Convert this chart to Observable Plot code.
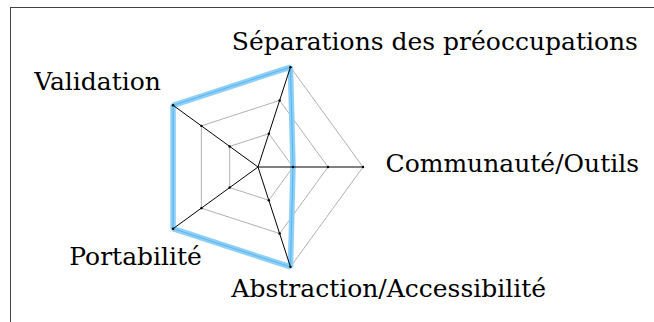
<!DOCTYPE html>
<html><head><meta charset="utf-8">
<script src="https://cdn.jsdelivr.net/npm/d3@7"></script>
<script src="https://cdn.jsdelivr.net/npm/@observablehq/plot@0.6"></script>
<style>
html,body{margin:0;padding:0;background:#fff;overflow:hidden}
#wrap{position:relative;width:654px;height:322px}
#frame{position:absolute;left:10px;top:7px;width:700px;height:400px;border-left:1.5px solid #444;border-top:1.5px solid #444;pointer-events:none}
#chart{position:absolute;left:0;top:0}
</style></head><body><div id="wrap"><div id="chart"></div><div id="frame"></div></div>
<script>
const axes = ["Communauté/Outils", "Séparations des préoccupations", "Validation", "Portabilité", "Abstraction/Accessibilité"];
const values = [1, 3, 3, 3, 3];
const levels = [1, 2, 3];
const maxValue = 3;

const n = axes.length;
const ang = i => (i * 2 * Math.PI) / n;
const pt = (v, i) => ({x: v * Math.cos(ang(i)), y: v * Math.sin(ang(i))});

const gridPts = levels.flatMap(l => d3.range(n + 1).map(i => ({level: l, ...pt(l, i % n)})));
const spokes = axes.map((a, i) => ({axis: a, x1: 0, y1: 0, x2: pt(maxValue, i).x, y2: pt(maxValue, i).y}));
const tickPts = levels.flatMap(l => axes.map((a, i) => pt(l, i)));
const dataPts = d3.range(n + 1).map(i => pt(values[i % n], i % n));
const labelPts = axes.map((a, i) => ({label: a, ...pt(maxValue * 3.5 / 3, i)}));

// layout of label anchors (style only)
const labelStyle = [
  {anchor: "start", dx: 5, dy: -3},
  {anchor: "start", dx: -64, dy: -8.5},
  {anchor: "end", dx: 2, dy: -13},
  {anchor: "end", dx: 43, dy: 18},
  {anchor: "start", dx: -64.5, dy: 5.5}
];

const W = 654, H = 322, cx = 257.5, cy = 166.5, u = 35;
const font = "'DejaVu Serif', 'Liberation Serif', serif";

const chart = Plot.plot({
  width: W, height: H,
  margin: 0,
  x: {domain: [-cx / u, (W - cx) / u], range: [0, W], axis: null},
  y: {domain: [-(H - cy) / u, cy / u], range: [H, 0], axis: null},
  style: {background: "transparent", fontFamily: font},
  marks: [
    Plot.line(gridPts, {x: "x", y: "y", z: "level", stroke: "#a8a8a8", strokeWidth: 0.9}),
    Plot.line(dataPts, {x: "x", y: "y", stroke: "#8ccff8", strokeWidth: 5.5, strokeLinejoin: "miter"}),
    Plot.line(dataPts, {x: "x", y: "y", stroke: "#5cb3ec", strokeWidth: 1, strokeLinejoin: "miter"}),
    Plot.link(spokes, {x1: "x1", y1: "y1", x2: "x2", y2: "y2", stroke: "#000", strokeWidth: 1}),
    Plot.dot(tickPts, {x: "x", y: "y", r: 1.2, fill: "#000"}),
    ...labelPts.map((d, i) => Plot.text([d], {
      x: "x", y: "y", text: "label",
      textAnchor: labelStyle[i].anchor, dx: labelStyle[i].dx, dy: labelStyle[i].dy,
      fontSize: 25, fill: "#000", fontFamily: font, fontWeight: 300
    }))
  ]
});
document.getElementById("chart").appendChild(chart);
</script>
</body></html>
